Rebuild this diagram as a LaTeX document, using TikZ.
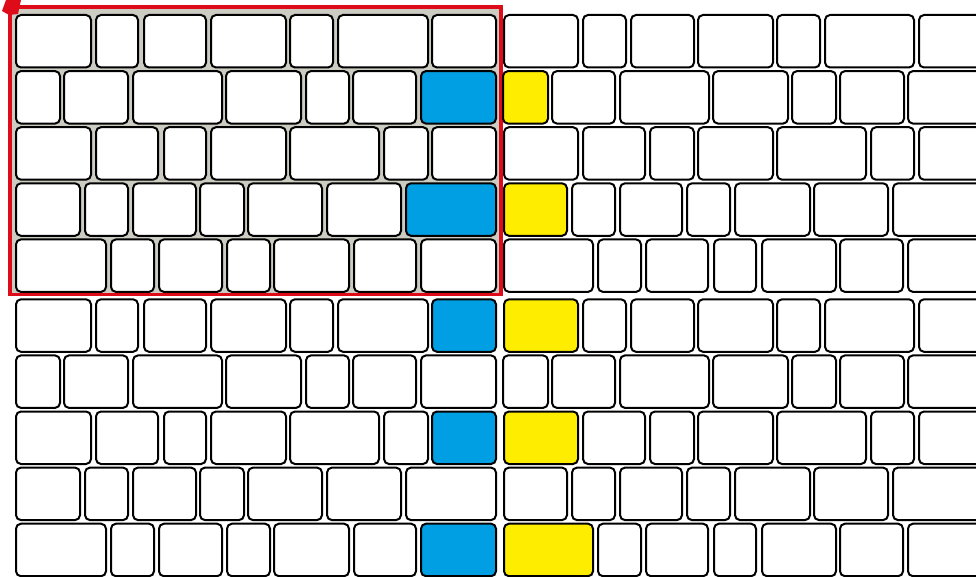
\documentclass[tikz,border=0pt]{standalone}
\definecolor{grout}{RGB}{204,204,195}
\definecolor{framered}{RGB}{222,12,24}
\definecolor{pblue}{RGB}{0,159,227}
\definecolor{pyellow}{RGB}{255,237,0}
\newcommand{\rowA}{15/92, 95/139, 143/207, 210/287, 289/334, 337/429, 431/497, 503/579, 582/627, 630/695, 697/774, 776/821, 824/915, 918/1000}
\newcommand{\rowB}{15/61, 63/129, 132/223, 225/302, 305/350, 352/417, 420/497, 502/549, 551/616, 619/710, 712/789, 791/837, 839/905, 907/1000}
\newcommand{\rowC}{15/92, 95/159, 163/207, 210/287, 289/380, 383/429, 431/497, 503/579, 582/646, 649/695, 697/774, 776/867, 870/915, 918/1000}
\newcommand{\rowD}{15/81, 84/129, 132/197, 199/245, 247/323, 326/402, 405/497, 503/568, 571/616, 619/683, 686/731, 734/811, 813/889, 892/1000}
\newcommand{\rowE}{15/107, 110/155, 158/223, 226/271, 273/350, 353/417, 420/497, 503/594, 597/642, 645/709, 713/757, 761/837, 839/904, 907/1000}
% #1 top y, #2 list of bricks, #3 fill of 7th brick, #4 fill of 8th brick
\newcommand{\brickrow}[4]{%
  \foreach \a/\b [count=\i] in #2 {%
    \ifnum\i=7 \def\myfill{#3}\else\ifnum\i=8 \def\myfill{#4}\else\def\myfill{white}\fi\fi
    \draw[brick,fill=\myfill] (\a+1,#1+1) rectangle (\b-1,#1+53.5);
  }%
}
\begin{document}
\begin{tikzpicture}[x=1pt,y=-1pt,
  brick/.style={draw=black,line width=2pt,rounded corners=5pt},
  frame/.style={draw=framered,line width=3.6pt}]
\useasboundingbox (0,0) rectangle (976,577);
\clip (0,0) rectangle (976,577);
% grey ground inside the red frame
\fill[grout] (10,7) rectangle (501,294.5);
\draw[frame] (10,7) rectangle (501,294.5);
\fill[framered] (2,11) -- (6,0) -- (21,0) -- (18,14) -- (9,15) -- cycle;
% upper block
\brickrow{14}{\rowA}{white}{white}
\brickrow{70.1}{\rowB}{pblue}{pyellow}
\brickrow{126.2}{\rowC}{white}{white}
\brickrow{182.3}{\rowD}{pblue}{pyellow}
\brickrow{238.4}{\rowE}{white}{white}
% lower block
\brickrow{298.3}{\rowA}{pblue}{pyellow}
\brickrow{354.4}{\rowB}{white}{white}
\brickrow{410.5}{\rowC}{pblue}{pyellow}
\brickrow{466.6}{\rowD}{white}{white}
\brickrow{522.7}{\rowE}{pblue}{pyellow}
\end{tikzpicture}
\end{document}
